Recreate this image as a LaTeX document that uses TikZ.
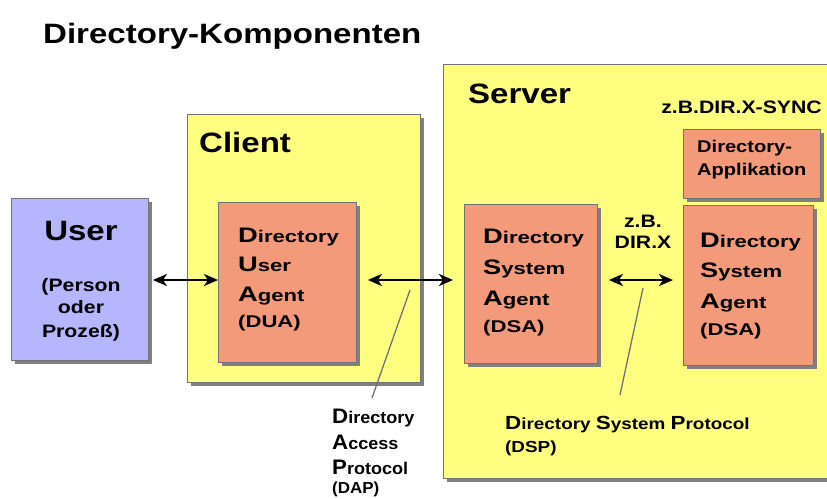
\documentclass[tikz,border=0pt]{standalone}
\usepackage{fontspec}
\setmainfont{Liberation Sans}
\newfontfamily\fa{Liberation Sans}[FakeStretch=1.18]
\newfontfamily\fb{Liberation Sans}[FakeStretch=1.3]
\newfontfamily\fc{Liberation Sans}[FakeStretch=1.06]
\usetikzlibrary{arrows.meta,shadows}
\definecolor{yel}{RGB}{255,255,128}
\definecolor{salmon}{RGB}{242,154,122}
\definecolor{lav}{RGB}{182,182,255}
\definecolor{shade}{RGB}{128,128,128}
\definecolor{rim}{RGB}{115,115,115}
\newcommand\IniBox[1]{{\fontsize{21}{21}\selectfont #1}}
\newcommand\IniLbl[1]{{\fontsize{19}{19}\selectfont #1}}
\tikzset{
  card/.style={draw=rim, line width=0.9pt, anchor=north west, inner sep=0pt,
    drop shadow={shadow xshift=4pt, shadow yshift=-4pt, fill=shade, opacity=1}},
  txt/.style={anchor=base west, inner sep=0pt},
  head/.style={txt, font=\fa\bfseries\fontsize{28}{28}\selectfont},
  boxtxt/.style={txt, font=\fb\bfseries\fontsize{17}{17}\selectfont},
  small/.style={inner sep=0pt, font=\fa\bfseries\fontsize{18}{18}\selectfont},
  tip/.tip={Stealth[length=14pt,width=12pt,inset=4pt]},
  dbl/.style={tip-tip, line width=2.4pt},
  leader/.style={draw=rim, line width=1.3pt}
}
\begin{document}
\begin{tikzpicture}[x=1pt,y=-1pt]
\useasboundingbox[fill=white] (0,0) rectangle (827,498);

% title
\node[head] (title) at (43,43) {Directory-Komponenten};

% outer containers
\node[card, fill=yel, minimum width=233pt, minimum height=268pt] (client) at (187,114) {};
\node[card, fill=yel, minimum width=420pt, minimum height=414pt] (server) at (443,64) {};
\node[head] (clientlbl) at (199,152) {Client};
\node[head] (serverlbl) at (468,103) {Server};

% user
\node[card, fill=lav, minimum width=137pt, minimum height=162pt] (user) at (11,198) {};
\node[anchor=base, inner sep=0pt, font=\fa\bfseries\fontsize{28}{28}\selectfont] (userlbl) at (81,240) {User};
\node[anchor=base, small] (u1) at (81,291) {(Person};
\node[anchor=base, small] (u2) at (81,313) {oder};
\node[anchor=base, small] (u3) at (81,337) {Prozeß)};

% directory user agent
\node[card, fill=salmon, minimum width=138pt, minimum height=160pt] (dua) at (218,202) {};
\node[boxtxt] (dua1) at (238,242) {\IniBox{D}irectory};
\node[boxtxt] (dua2) at (238,271) {\IniBox{U}ser};
\node[boxtxt] (dua3) at (238,301) {\IniBox{A}gent};
\node[boxtxt] (dua4) at (238,327) {(DUA)};

% first system agent
\node[card, fill=salmon, minimum width=133pt, minimum height=159pt] (dsa1) at (464,204) {};
\node[boxtxt] (dsa11) at (483,243) {\IniBox{D}irectory};
\node[boxtxt] (dsa12) at (483,274) {\IniBox{S}ystem};
\node[boxtxt] (dsa13) at (483,305) {\IniBox{A}gent};
\node[boxtxt] (dsa14) at (483,332) {(DSA)};

% second system agent and application
\node[card, fill=salmon, minimum width=130pt, minimum height=160pt] (dsa2) at (683,205) {};
\node[boxtxt] (dsa21) at (700,247) {\IniBox{D}irectory};
\node[boxtxt] (dsa22) at (700,277) {\IniBox{S}ystem};
\node[boxtxt] (dsa23) at (700,308) {\IniBox{A}gent};
\node[boxtxt] (dsa24) at (700,335) {(DSA)};

\node[card, fill=salmon, minimum width=137pt, minimum height=69pt] (app) at (683,129) {};
\node[txt, font=\fa\bfseries\fontsize{17}{17}\selectfont] (app1) at (697,152) {Directory-};
\node[txt, font=\fa\bfseries\fontsize{17}{17}\selectfont] (app2) at (697,175) {Applikation};

\node[anchor=base east, small] (sync) at (822,113) {z.B.DIR.X-SYNC};
\node[anchor=base, small] (zb1) at (643,227) {z.B.};
\node[anchor=base, small] (zb2) at (643,248) {DIR.X};

% protocol arrows
\coordinate (ay) at (0,280);
\draw[dbl, shorten <=4pt, shorten >=0pt] (user.east |- ay) -- (dua.west |- ay);
\draw[dbl, shorten <=11pt, shorten >=11pt] (dua.east |- ay) -- (dsa1.west |- ay);
\draw[dbl, shorten <=11pt, shorten >=10pt] (dsa1.east |- ay) -- (dsa2.west |- ay);

% protocol labels
\node[txt, font=\fc\bfseries\fontsize{17}{17}\selectfont] (dap1) at (332,423) {\IniBox{D}irectory};
\node[txt, font=\fc\bfseries\fontsize{17}{17}\selectfont] (dap2) at (332,449) {\IniBox{A}ccess};
\node[txt, font=\fc\bfseries\fontsize{17}{17}\selectfont] (dap3) at (332,474) {\IniBox{P}rotocol};
\node[txt, font=\fc\bfseries\fontsize{16}{16}\selectfont] (dap4) at (332,493) {(DAP)};

\node[txt, font=\fa\bfseries\fontsize{16}{16}\selectfont] (dsp1) at (505,429) {\IniLbl{D}irectory \IniLbl{S}ystem \IniLbl{P}rotocol};
\node[txt, font=\fa\bfseries\fontsize{16}{16}\selectfont] (dsp2) at (505,452) {(DSP)};

% leader lines
\coordinate (dapA) at (410,290);
\coordinate (dapB) at (372,398);
\coordinate (dspA) at (643,288);
\coordinate (dspB) at (620,395);
\draw[leader] (dapA) -- (dapB);
\draw[leader] (dspA) -- (dspB);
\end{tikzpicture}
\end{document}
